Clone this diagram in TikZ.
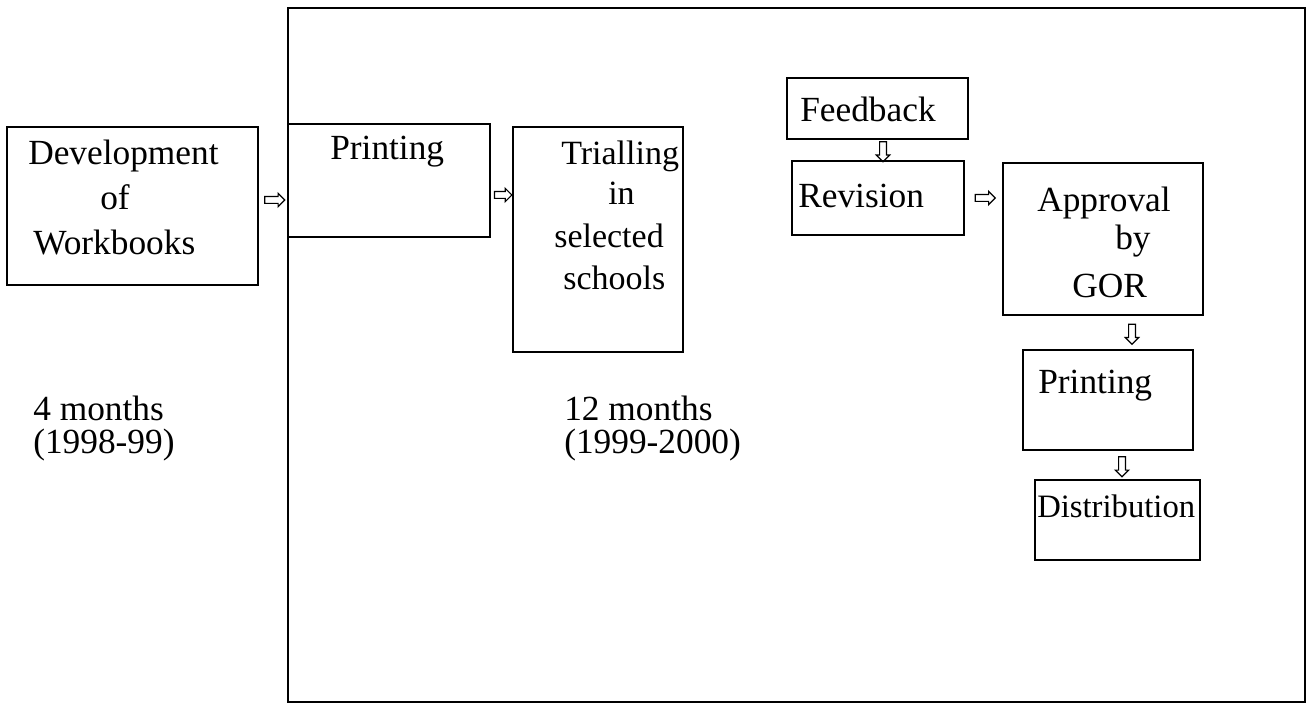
\documentclass[tikz,border=0pt]{standalone}
\usepackage{fontspec}
\setmainfont{Liberation Serif}
\usetikzlibrary{fit,shapes.arrows,calc}
\begin{document}
\begin{tikzpicture}[x=0.75pt,y=-0.75pt,
  box/.style={draw, line width=1.8pt, inner sep=0pt},
  txt/.style={anchor=base west, inner sep=0pt, font=\fontsize{26.5}{32}\selectfont},
  small/.style={font=\fontsize{25.5}{30}\selectfont},
  harrow/.style={single arrow, draw, line width=0.9pt, inner sep=2.1pt,
    minimum height=15pt, single arrow head extend=2.4pt, single arrow head indent=0pt},
  varrow/.style={harrow, shape border rotate=270}]
\useasboundingbox (0,0) rectangle (1312,705);

% outer frame of the 12-month phase
\node[box, fit={(288,8)(1305,702)}] (frame) {};

% process boxes
\node[box, fit={(7,127)(258,285)}]    (dev)  {};
\node[box, fit={(288,124)(490,237)}]  (p1)   {};
\node[box, fit={(513,127)(683,352)}]  (tri)  {};
\node[box, fit={(787,78)(968,139)}]   (fb)   {};
\node[box, fit={(792,161)(964,235)}]  (rev)  {};
\node[box, fit={(1003,163)(1203,315)}] (app) {};
\node[box, fit={(1023,350)(1193,450)}] (p2)  {};
\node[box, fit={(1035,480)(1200,560)}] (dist) {};

% box texts
\node[txt] (devA) at (28,165)  {Development};
\node[txt] (devB) at (100,210) {of};
\node[txt] (devC) at (33,255)  {Workbooks};
\node[txt] (p1A)  at (330,160) {Printing};
\node[txt, small] (triA) at (561,165) {Trialling};
\node[txt, small] (triB) at (608,205) {in};
\node[txt, small] (triC) at (554,248) {selected};
\node[txt, small] (triD) at (563,290) {schools};
\node[txt] (fbA)  at (800,122) {Feedback};
\node[txt] (revA) at (798,208) {Revision};
\node[txt] (appA) at (1037,212) {Approval};
\node[txt] (appB) at (1115,250) {by};
\node[txt] (appC) at (1072,298) {GOR};
\node[txt] (p2A)  at (1038,393) {Printing};
\node[txt, font=\fontsize{24.5}{30}\selectfont] (distA) at (1037,517) {Distribution};

% durations
\node[txt] (durA) at (33,421)  {4 months};
\node[txt] (durB) at (33,453)  {(1998-99)};
\node[txt] (durC) at (564,421) {12 months};
\node[txt] (durD) at (564,453) {(1999-2000)};

% reference rows and columns for the hollow arrows
\coordinate (r1) at (0,200);
\coordinate (r2) at (0,195);
\coordinate (r3) at (0,198);
\coordinate (c1) at (883,0);
\coordinate (c2) at (1132,0);
\coordinate (c3) at (1122,0);

\coordinate (m1) at ($(dev.east)!0.5!(p1.west)$);
\coordinate (m2) at ($(p1.east)!0.5!(tri.west)$);
\coordinate (m3) at ($(rev.east)!0.5!(app.west)$);
\coordinate (m4) at ($(fb.south)!0.5!(rev.north)$);
\coordinate (m5) at ($(app.south)!0.5!(p2.north)$);
\coordinate (m6) at ($(p2.south)!0.5!(dist.north)$);

\node[harrow] (a1) at (m1 |- r1) {};
\node[harrow, minimum height=13pt] (a2) at (m2 |- r2) {};
\node[harrow] (a3) at (m3 |- r3) {};
\node[varrow] (a4) at (c1 |- m4) {};
\node[varrow] (a5) at (c2 |- m5) {};
\node[varrow] (a6) at (c3 |- m6) {};
\end{tikzpicture}
\end{document}
